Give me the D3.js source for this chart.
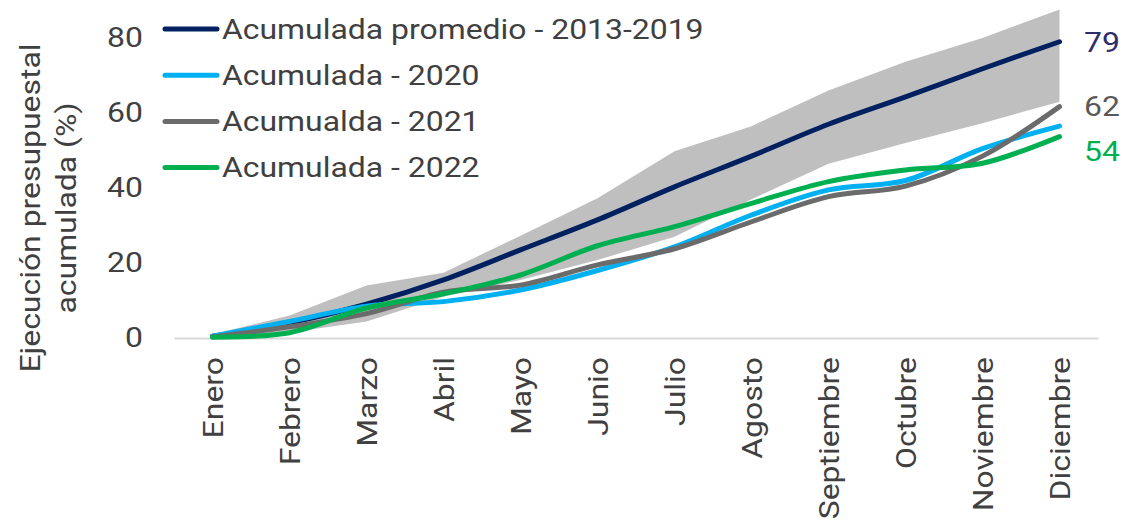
<!DOCTYPE html>
<html>
<head>
<meta charset="utf-8">
<script src="https://cdn.jsdelivr.net/npm/d3@7"></script>
<style>
  html, body { margin: 0; padding: 0; background: #fff; }
  svg { display: block; font-family: Roboto, "Noto Sans", sans-serif; }
</style>
</head>
<body>
<svg id="chart" width="1123" height="522"></svg>
<script>
// data
const months = ["Enero", "Febrero", "Marzo", "Abril", "Mayo", "Junio", "Julio",
  "Agosto", "Septiembre", "Octubre", "Noviembre", "Diciembre"];
const promedio = [0.5, 4, 9, 15.5, 23.5, 31.5, 40.3, 48.5, 57, 64.3, 71.8, 79];
const bandaMax = [1, 6, 14, 17.4, 27.3, 37.3, 49.8, 56.5, 66, 73.7, 80, 87.6];
const bandaMin = [0, 1.5, 4.4, 11, 15.5, 20.8, 27, 37, 46.5, 52, 57.3, 63];
const acum2020 = [0.5, 4.4, 8.5, 9.7, 12.8, 18, 24.3, 32.8, 39.5, 42, 50.5, 56.5];
const acum2021 = [0.3, 3, 6.5, 12.2, 14.1, 19.5, 23.8, 31, 37.7, 40.5, 48.5, 61.7];
const acum2022 = [0.2, 1.4, 8, 11.8, 16.8, 24.6, 29.7, 35.9, 41.7, 44.8, 46.6, 53.7];
const yTicks = [0, 20, 40, 60, 80];

const series = [
  { name: "Acumulada promedio - 2013-2019", values: promedio, color: "#002060", label: true, labelColor: "#2e2c6c", dy: 0 },
  { name: "Acumulada - 2020", values: acum2020, color: "#00b0f0", label: false },
  { name: "Acumualda - 2021", values: acum2021, color: "#6b6b6b", label: true, labelColor: "#595959", dy: 0 },
  { name: "Acumulada - 2022", values: acum2022, color: "#00b050", label: true, labelColor: "#00b050", dy: 15 }
];

const svg = d3.select("#chart");
const textColor = "#404040";
const fontSize = "28px";
const sx = 1.14; // the source font is a bit wider than Roboto

const x = d3.scalePoint()
  .domain(months)
  .range([174, 1098])
  .padding(0.5);

const y = d3.scaleLinear()
  .domain([0, 90])
  .range([338, 0.5]);

// grey range band
const area = d3.area()
  .x((d, i) => x(months[i]))
  .y0((d, i) => y(bandaMin[i]))
  .y1((d, i) => y(bandaMax[i]));

svg.append("path")
  .datum(bandaMax)
  .attr("d", area)
  .attr("fill", "#bfbfbf");

// x axis (zero line + month labels)
const xAxis = svg.append("g")
  .attr("transform", "translate(0,338)")
  .call(d3.axisBottom(x).tickSize(0));
xAxis.select(".domain").attr("stroke", "#d9d9d9").attr("stroke-width", 2);
xAxis.selectAll("text")
  .attr("transform", `rotate(-90) scale(${sx},1)`)
  .attr("text-anchor", "end")
  .attr("x", -19 / sx)
  .attr("y", 0)
  .attr("dy", "0.35em")
  .attr("fill", textColor)
  .style("font-size", fontSize)
  .style("font-family", "Roboto, sans-serif");

// y axis
const yAxis = svg.append("g")
  .attr("transform", "translate(174,0)")
  .call(d3.axisLeft(y).tickValues(yTicks).tickSize(0));
yAxis.select(".domain").remove();
yAxis.selectAll("text")
  .attr("transform", `scale(${sx},1)`)
  .attr("x", -31 / sx)
  .attr("fill", textColor)
  .style("font-size", fontSize)
  .style("font-family", "Roboto, sans-serif");

// y axis title
const title = svg.append("text")
  .attr("transform", `translate(48,208) rotate(-90) scale(${sx},1)`)
  .attr("text-anchor", "middle")
  .attr("fill", textColor)
  .style("font-size", fontSize);
title.append("tspan").attr("x", 0).attr("dy", "-0.3em").text("Ejecución presupuestal");
title.append("tspan").attr("x", 0).attr("dy", "1.3em").text("acumulada (%)");

// lines
const line = d3.line()
  .x((d, i) => x(months[i]))
  .y(d => y(d))
  .curve(d3.curveCatmullRom.alpha(0.5));

svg.append("g")
  .selectAll("path")
  .data(series)
  .enter().append("path")
  .attr("d", d => line(d.values))
  .attr("fill", "none")
  .attr("stroke", d => d.color)
  .attr("stroke-width", 5)
  .attr("stroke-linecap", "round")
  .attr("stroke-linejoin", "round");

// end labels
const last = months.length - 1;
svg.append("g")
  .selectAll("text")
  .data(series.filter(d => d.label))
  .enter().append("text")
  .attr("transform", d => `translate(1084,${y(d.values[last]) + d.dy}) scale(${sx},1)`)
  .attr("dy", "0.35em")
  .attr("fill", d => d.labelColor)
  .style("font-size", fontSize)
  .text(d => Math.round(d.values[last]));

// legend
const legend = svg.append("g")
  .selectAll("g")
  .data(series)
  .enter().append("g")
  .attr("transform", (d, i) => `translate(163,${29 + i * 46.2})`);

legend.append("line")
  .attr("x1", 2).attr("x2", 54)
  .attr("stroke", d => d.color)
  .attr("stroke-width", 5)
  .attr("stroke-linecap", "round");

legend.append("text")
  .attr("transform", `translate(59,0) scale(${sx},1)`)
  .attr("dy", "0.35em")
  .attr("fill", textColor)
  .style("font-size", fontSize)
  .text(d => d.name);
</script>
</body>
</html>
